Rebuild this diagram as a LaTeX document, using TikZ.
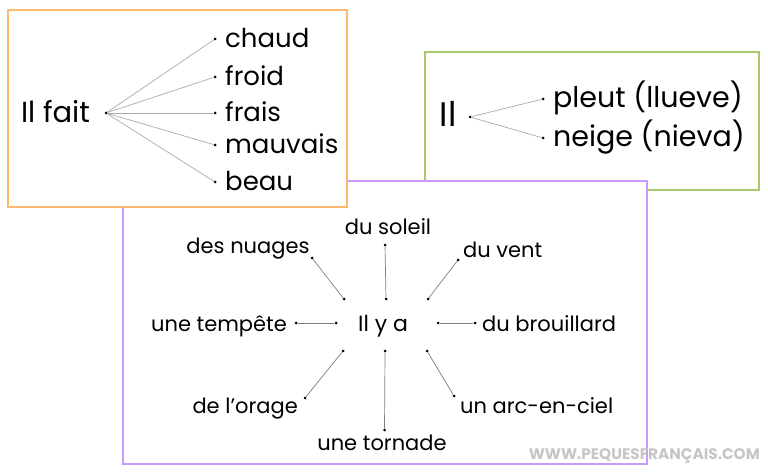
\documentclass[tikz,border=0pt]{standalone}
\usepackage{fontspec}
\setmainfont{Poppins}
\definecolor{orangebox}{HTML}{FDBA6E}
\definecolor{greenbox}{HTML}{A9C96B}
\definecolor{purplebox}{HTML}{CC99FF}
\definecolor{linegray}{HTML}{AAAAAA}
\tikzset{
  dot/.style={circle,fill=black,inner sep=0pt,minimum size=3pt},
  bigtxt/.style={font=\fontsize{26}{26}\selectfont,inner sep=0pt},
  midtxt/.style={font=\fontsize{21}{21}\selectfont,inner sep=0pt},
  link/.style={draw=linegray,line width=0.7pt},
  box/.style={line width=2pt,fill=white},
}
\begin{document}
\begin{tikzpicture}[x=1pt,y=-1pt]
\useasboundingbox[fill=white] (0,0) rectangle (768,473);
% boxes
\draw[box,draw=greenbox] (425,52) rectangle (759,190);
\draw[box,draw=purplebox] (123,181) rectangle (647,464);
\draw[box,draw=orangebox] (8,10) rectangle (347,207);

% ---- Il fait
\node[bigtxt,anchor=base,font=\fontsize{29}{29}\selectfont] (ilfait) at (55.5,123) {Il fait};
\node[dot] (f0) at (106,113) {};
\foreach \n/\y/\t in {1/39/chaud,2/77/froid,3/113/frais,4/145/mauvais,5/182/beau}{
  \node[dot] (f\n) at (215,\y) {};
  \node[bigtxt,anchor=base west] (ft\n) at (225,\y+9) {\t};
  \draw[link] (f0) -- (f\n);
}

% ---- Il
\node[bigtxt,anchor=base,font=\fontsize{34}{34}\selectfont] (il) at (448,127) {Il};
\node[dot] (g0) at (470,117) {};
\node[dot] (g1) at (543,99) {};
\node[dot] (g2) at (543,138) {};
\node[bigtxt,anchor=base west,font=\fontsize{28.5}{28.5}\selectfont] (gt1) at (553,108) {pleut (llueve)};
\node[bigtxt,anchor=base west,font=\fontsize{28.5}{28.5}\selectfont] (gt2) at (553,147) {neige (nieva)};
\draw[link] (g0) -- (g1);
\draw[link] (g0) -- (g2);

% ---- Il y a
\node[midtxt,anchor=base,font=\fontsize{22}{22}\selectfont] (ilya) at (383,331) {Il y a};
\node[dot] (i1) at (344,299) {}; \node[dot] (o1) at (312,258) {};
\node[dot] (i2) at (386,299) {}; \node[dot] (o2) at (385,245) {};
\node[dot] (i3) at (428,299) {}; \node[dot] (o3) at (458,260) {};
\node[dot] (i4) at (336,323) {}; \node[dot] (o4) at (296,323) {};
\node[dot] (i5) at (438,323) {}; \node[dot] (o5) at (475,323) {};
\node[dot] (i6) at (343,351) {}; \node[dot] (o6) at (305,398) {};
\node[dot] (i7) at (385,351) {}; \node[dot] (o7) at (384.5,430) {};
\node[dot] (i8) at (427,351) {}; \node[dot] (o8) at (454,396) {};
\foreach \k in {1,...,8}{\draw[link,draw=gray] (i\k) -- (o\k);}

\node[midtxt,anchor=base] (t1) at (248,253) {des nuages};
\node[midtxt,anchor=base] (t2) at (388,234) {du soleil};
\node[midtxt,anchor=base west] (t3) at (463,257) {du vent};
\node[midtxt,anchor=base east] (t4) at (287,331) {une tempête};
\node[midtxt,anchor=base west] (t5) at (482,331) {du brouillard};
\node[midtxt,anchor=base east] (t6) at (298,413) {de l'orage};
\node[midtxt,anchor=base] (t7) at (382,450) {une tornade};
\node[midtxt,anchor=base west] (t8) at (460,413) {un arc-en-ciel};

% watermark
\node[anchor=base east,inner sep=0pt,text=gray!45,font=\bfseries\fontsize{15.3}{15.3}\selectfont] (wm) at (760,459) {WWW.PEQUESFRANÇAIS.COM};
\end{tikzpicture}
\end{document}
